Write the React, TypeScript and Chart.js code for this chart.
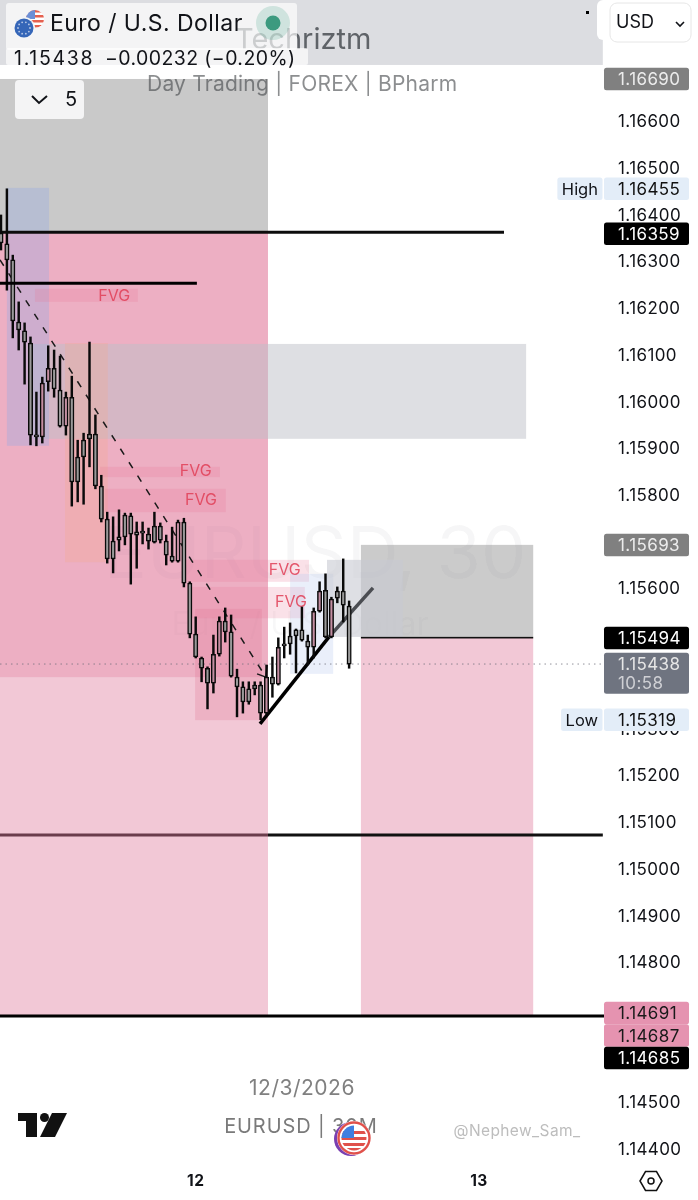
import React, { useEffect, useRef } from "react";
import { Chart, registerables } from "chart.js";

Chart.register(...registerables);

const FONT = "Inter, 'Liberation Sans', sans-serif";

// Candles, oldest first, in 30 minute steps (prices × 100000 for readability)
const opens = [116360, 116337, 116303, 116170, 116151, 116125, 115928, 115924, 116042, 116071, 116024, 115947, 116009, 115881, 115917, 115930, 115930, 115819, 115748, 115701, 115710, 115757, 115755, 115721, 115721, 115716, 115733, 115733, 115701, 115669, 115658, 115742, 115611, 115502, 115451, 115429, 115397, 115459, 115530, 115507, 115410, 115389, 115385, 115393, 115393, 115333, 115410, 115395, 115479, 115498, 115511, 115511, 115487, 115474, 115551, 115596, 115496, 115594, 115594, 115562];
const highs = [116399, 116455, 116313, 116213, 116168, 116138, 116020, 116052, 116119, 116110, 116097, 116020, 116054, 115917, 115932, 116127, 115971, 115842, 115763, 115753, 115768, 115761, 115761, 115742, 115742, 115729, 115763, 115740, 115714, 115731, 115746, 115750, 115614, 115539, 115453, 115432, 115500, 115539, 115558, 115543, 115427, 115400, 115400, 115400, 115400, 115436, 115453, 115494, 115517, 115526, 115513, 115560, 115500, 115558, 115614, 115631, 115581, 115603, 115663, 115573];
const lows = [116324, 116238, 116136, 116110, 116037, 115907, 115905, 115911, 116022, 116009, 115945, 115928, 115776, 115785, 115780, 115860, 115813, 115742, 115654, 115633, 115680, 115693, 115609, 115643, 115695, 115684, 115697, 115697, 115650, 115656, 115656, 115603, 115494, 115451, 115400, 115342, 115376, 115455, 115485, 115410, 115325, 115333, 115352, 115372, 115319, 115331, 115367, 115393, 115451, 115459, 115419, 115487, 115436, 115451, 115549, 115494, 115494, 115569, 115528, 115429];
const closes = [116339, 116303, 116172, 116153, 116127, 115928, 115924, 116039, 116071, 116027, 115947, 116009, 115828, 115828, 115881, 115920, 115819, 115748, 115663, 115663, 115703, 115710, 115716, 115714, 115718, 115701, 115699, 115703, 115671, 115658, 115742, 115611, 115502, 115453, 115429, 115397, 115459, 115530, 115507, 115412, 115389, 115357, 115357, 115385, 115333, 115410, 115395, 115474, 115477, 115481, 115498, 115489, 115474, 115551, 115594, 115496, 115577, 115579, 115564, 115438];

const yTicks = [1.166, 1.165, 1.164, 1.163, 1.162, 1.161, 1.16, 1.159, 1.158, 1.156, 1.153, 1.152, 1.151, 1.15, 1.149, 1.148, 1.145, 1.144];
const xTickValues = [33, 81];
const xTickLabels: Record<number, string> = { 33: "12", 81: "13" };

// Zones: [time from, time to, price top, price bottom]
const pinkZone = [-0.17, 45.25, 1.16362, 1.14687];
const pinkUpperZone = [-0.17, 45.25, 1.16362, 1.1541];
const grayTopZone = [-0.17, 45.25, 1.1669, 1.16362];
const headerBand = [-0.17, 102, 1.169, 1.1672];
const supplyZone = [5.42, 89, 1.16123, 1.1592];
const blueLeftZone = [1, 8.14, 1.16457, 1.15905];
const orangeZone = [10.85, 18.1, 1.16125, 1.15656];
const darkPinkZone = [32.9, 44.2, 1.15556, 1.15318];
const blueRightZone = [49, 56.3, 1.15631, 1.15417];
const grayRightZone = [55.25, 68.1, 1.15661, 1.15496];
const tradeStopZone = [61, 90.2, 1.15693, 1.15494];
const tradeTargetZone = [61, 90.2, 1.15494, 1.14687];

const fvgBands = [
  [5.76, 23.2, 1.16241, 1.16213],
  [16.8, 37.1, 1.1586, 1.15838],
  [17.6, 38.1, 1.15813, 1.15763],
  [31.2, 52.2, 1.15661, 1.15614],
  [32, 51.5, 1.15603, 1.15536],
];
const fvgLabels = [
  [19.2, 1.16226],
  [33, 1.15851],
  [33.9, 1.15789],
  [48.1, 1.15639],
  [49.15, 1.15571],
];

// Lines in chart values
const level16359 = [{ x: -0.17, y: 1.16362 }, { x: 85.25, y: 1.16362 }];
const level16253 = [{ x: -0.17, y: 1.16253 }, { x: 33.2, y: 1.16253 }];
const level15074Left = [{ x: -0.17, y: 1.15072 }, { x: 45.25, y: 1.15072 }];
const level15074Right = [{ x: 45.25, y: 1.15072 }, { x: 102, y: 1.15072 }];
const level14685 = [{ x: -0.17, y: 1.14685 }, { x: 102.37, y: 1.14685 }];
const lastPriceLine = [{ x: -0.17, y: 1.15438 }, { x: 102, y: 1.15438 }];
const trendLower = [{ x: 43.9, y: 1.1531 }, { x: 55.6, y: 1.15496 }];
const trendUpper = [{ x: 55.6, y: 1.15496 }, { x: 63.05, y: 1.15601 }];
const dashedTrend = [{ x: -0.17, y: 1.16303 }, { x: 44.9, y: 1.1541 }];
const arrowA = [{ x: 43.4, y: 1.15417 }, { x: 44.9, y: 1.1541 }];
const arrowB = [{ x: 45.1, y: 1.15436 }, { x: 44.9, y: 1.1541 }];

// Price tags on the axis
const tagValues = [1.1669, 1.16455, 1.16359, 1.15693, 1.15494, 1.15438, 1.15319, 1.14691, 1.14687, 1.14685];
const tagKinds = ["gray", "blue", "black", "gray", "black", "last", "blue", "pink", "pink", "black"];
const tagPrefix: Record<number, string> = { 1: "High", 6: "Low" };
const countdown = "10:58";

const TAG_STYLE: Record<string, { bg: string; fg: string }> = {
  gray: { bg: "#808080", fg: "#ececec" },
  blue: { bg: "#e3edf8", fg: "#111111" },
  black: { bg: "#000000", fg: "#ffffff" },
  last: { bg: "#6f7480", fg: "#e6e6e6" },
  pink: { bg: "#e593b0", fg: "#1a1a1a" },
};

const toPrice = (v: number) => v / 100000;
const UP = "#c48ea2";
const DOWN = "#9a9a9a";

function lineDs(data: any[], color: string, width: number, order: number, dash: number[] = []) {
  return {
    type: "line" as const,
    data,
    borderColor: color,
    borderWidth: width,
    borderDash: dash,
    pointRadius: 0,
    fill: false,
    order,
    tension: 0,
    borderCapStyle: "butt" as const,
  };
}

function roundRect(ctx: CanvasRenderingContext2D, x: number, y: number, w: number, h: number, r: number, fill: string) {
  ctx.fillStyle = fill;
  ctx.beginPath();
  ctx.roundRect(x, y, w, h, r);
  ctx.fill();
}

function text(ctx: any, s: string, x: number, y: number, font: string, color: string, align: CanvasTextAlign = "left", spacing = 0) {
  ctx.font = font;
  ctx.fillStyle = color;
  ctx.textAlign = align;
  ctx.textBaseline = "middle";
  ctx.letterSpacing = `${spacing}px`;
  ctx.fillText(s, x, y + 1);
}

const zonesPlugin = {
  id: "zones",
  beforeDraw(chart: any) {
    chart.ctx.letterSpacing = "0.4px";
  },
  beforeDatasetsDraw(chart: any) {
    const { ctx, scales } = chart;
    const xs = scales.x;
    const ys = scales.y;
    const zone = (z: number[], color: string) => {
      const x1 = xs.getPixelForValue(z[0]);
      const x2 = xs.getPixelForValue(z[1]);
      const y1 = ys.getPixelForValue(z[2]);
      const y2 = ys.getPixelForValue(z[3]);
      ctx.fillStyle = color;
      ctx.fillRect(x1, y1, x2 - x1, y2 - y1);
    };
    ctx.save();
    zone(headerBand, "#dcdde1");
    // watermark sits under the pink zone
    text(ctx, "EURUSD, 30", 315, 555, `72px ${FONT}`, "rgba(19,23,34,0.02)", "center");
    text(ctx, "Euro / U.S. Dollar", 300, 624, `32px ${FONT}`, "rgba(19,23,34,0.02)", "center");
    zone(grayTopZone, "#c9c9c9");
    zone(pinkZone, "#f2c8d6");
    zone(pinkUpperZone, "rgba(232,140,170,0.42)");
    zone(tradeStopZone, "rgba(175,175,175,0.65)");
    zone(tradeTargetZone, "#f2c8d6");
    text(ctx, "EURUSD, 30", 315, 555, `72px ${FONT}`, "rgba(19,23,34,0.02)", "center");
    text(ctx, "Euro / U.S. Dollar", 300, 624, `32px ${FONT}`, "rgba(19,23,34,0.015)", "center");
    zone(supplyZone, "rgba(190,192,200,0.5)");
    zone(blueLeftZone, "rgba(150,170,225,0.35)");
    zone(orangeZone, "rgba(245,170,140,0.28)");
    zone(darkPinkZone, "rgba(222,110,145,0.25)");
    fvgBands.forEach((b) => zone(b, "rgba(230,120,150,0.22)"));
    zone(blueRightZone, "rgba(190,205,240,0.32)");
    zone(grayRightZone, "rgba(200,202,210,0.6)");
    // target top edge
    ctx.fillStyle = "#111111";
    ctx.fillRect(xs.getPixelForValue(tradeTargetZone[0]), ys.getPixelForValue(tradeTargetZone[2]) - 1, xs.getPixelForValue(tradeTargetZone[1]) - xs.getPixelForValue(tradeTargetZone[0]), 1.6);
    fvgLabels.forEach((l) => {
      text(ctx, "FVG", xs.getPixelForValue(l[0]), ys.getPixelForValue(l[1]) - 1, `16px ${FONT}`, "rgba(224,62,86,0.85)", "center");
    });
    // Header watermark text
    text(ctx, "Techriztm", 235, 39, `29px ${FONT}`, "#5f6368");
    ctx.restore();
  },
  afterDraw(chart: any) {
    const { ctx, scales } = chart;
    const ys = scales.y;
    ctx.save();

    // Legend panel
    ctx.fillStyle = "#ffffff";
    ctx.fillRect(0, 65, 300, 13);
    text(ctx, "Day Trading | FOREX | BPharm", 147, 84, `21px ${FONT}`, "rgba(70,72,76,0.62)", "left", 0.22);
    roundRect(ctx, 6, 3, 291, 47, 3, "rgba(255,255,255,0.68)");
    roundRect(ctx, 6, 48, 302, 17, 2, "rgba(255,255,255,0.68)");

    // Flags
    ctx.save();
    ctx.beginPath();
    ctx.arc(35, 19, 9, 0, Math.PI * 2);
    ctx.clip();
    ctx.fillStyle = "#ffffff";
    ctx.fillRect(26, 10, 18, 18);
    ctx.fillStyle = "#e5604f";
    for (let s = 10; s < 28; s += 5) ctx.fillRect(26, s, 18, 2.5);
    ctx.fillStyle = "#6c8fd6";
    ctx.fillRect(26, 10, 9, 9);
    ctx.restore();
    ctx.fillStyle = "#f4f5f7";
    ctx.beginPath();
    ctx.arc(24, 28, 11, 0, Math.PI * 2);
    ctx.fill();
    ctx.fillStyle = "#3566b8";
    ctx.beginPath();
    ctx.arc(24, 28, 9.5, 0, Math.PI * 2);
    ctx.fill();
    ctx.fillStyle = "#b9c9e6";
    for (let k = 0; k < 10; k++) {
      const a = (k * Math.PI) / 5;
      ctx.beginPath();
      ctx.arc(24 + 6 * Math.cos(a), 28 + 6 * Math.sin(a), 0.9, 0, Math.PI * 2);
      ctx.fill();
    }

    text(ctx, "Euro / U.S. Dollar", 50, 23, `23px ${FONT}`, "#111318", "left", 0.45);
    text(ctx, "1.15438", 14, 58, `19.5px ${FONT}`, "#111318", "left", 1.7);
    text(ctx, "−0.00232 (−0.20%)", 105, 58, `19.5px ${FONT}`, "#111318", "left", 0.4);

    // Status dot
    ctx.fillStyle = "rgba(60,160,130,0.2)";
    ctx.beginPath();
    ctx.arc(273, 23, 17, 0, Math.PI * 2);
    ctx.fill();
    ctx.fillStyle = "#3c9a7f";
    ctx.beginPath();
    ctx.arc(273, 23, 7.5, 0, Math.PI * 2);
    ctx.fill();

    // Indicators button
    roundRect(ctx, 15, 80, 69, 39, 4, "#f4f4f5");
    ctx.strokeStyle = "#111318";
    ctx.lineWidth = 2;
    ctx.beginPath();
    ctx.moveTo(32, 96);
    ctx.lineTo(39, 103);
    ctx.lineTo(47, 96);
    ctx.stroke();
    text(ctx, "5", 65, 99, `20px ${FONT}`, "#111318");

    // Currency select
    ctx.fillStyle = "#000";
    ctx.fillRect(586, 11, 3, 3);
    ctx.fillStyle = "#ffffff";
    ctx.beginPath();
    ctx.roundRect(597, 0, 12, 40, 6);
    ctx.fill();
    roundRect(ctx, 610, 3, 81, 39, 7, "#ffffff");
    ctx.strokeStyle = "#e6e6e6";
    ctx.lineWidth = 1;
    ctx.beginPath();
    ctx.roundRect(610, 3, 81, 39, 7);
    ctx.stroke();
    text(ctx, "USD", 616, 22, `18px ${FONT}`, "#111318");
    ctx.strokeStyle = "#111318";
    ctx.lineWidth = 1.6;
    ctx.beginPath();
    ctx.moveTo(676, 22);
    ctx.lineTo(680, 26);
    ctx.lineTo(684, 22);
    ctx.stroke();

    // Price tags
    const h = 22.5;
    let lastBottom = -100;
    tagValues.forEach((v, i) => {
      const kind = tagKinds[i];
      const st = TAG_STYLE[kind];
      let y = ys.getPixelForValue(v);
      if (y - h / 2 < lastBottom) y = lastBottom + h / 2;
      const tall = kind === "last";
      const top = y - h / 2;
      const height = tall ? 41 : h;
      roundRect(ctx, 604, top, 85, height, 2.5, st.bg);
      text(ctx, v.toFixed(5), 618, y, `17px ${FONT}`, st.fg, "left", 0.4);
      if (tall) text(ctx, countdown, 618, y + 19, `17px ${FONT}`, "#cfd0d4", "left", 0.4);
      lastBottom = top + height;
      const pre = tagPrefix[i];
      if (pre) {
        ctx.font = `16.5px ${FONT}`;
        ctx.letterSpacing = "0px";
        const w = ctx.measureText(pre).width + 9;
        roundRect(ctx, 602.5 - w, top, w, h, 2.5, st.bg);
        text(ctx, pre, 602.5 - w / 2, y, `16.5px ${FONT}`, "#111318", "center");
      }
    });

    // Bottom captions
    text(ctx, "12/3/2026", 302, 1088, `21px ${FONT}`, "#808080", "center", 0.5);
    text(ctx, "EURUSD | 30M", 301, 1126, `20px ${FONT}`, "#7a7a7a", "center", 0.9);
    text(ctx, "@Nephew_Sam_", 517, 1130, `15.5px ${FONT}`, "#bdbdbd", "center", 0.4);

    // Round flag
    ctx.fillStyle = "#7a3fb0";
    ctx.beginPath();
    ctx.arc(351, 1139, 17, 0, Math.PI * 2);
    ctx.fill();
    ctx.fillStyle = "#ffffff";
    ctx.beginPath();
    ctx.arc(354, 1138, 17, 0, Math.PI * 2);
    ctx.fill();
    ctx.strokeStyle = "#e0514b";
    ctx.lineWidth = 2.4;
    ctx.beginPath();
    ctx.arc(354, 1138, 15.5, 0, Math.PI * 2);
    ctx.stroke();
    ctx.save();
    ctx.beginPath();
    ctx.arc(354, 1138, 12.5, 0, Math.PI * 2);
    ctx.clip();
    ctx.fillStyle = "#ffffff";
    ctx.fillRect(340, 1124, 28, 28);
    ctx.fillStyle = "#e0514b";
    [1131, 1137, 1143, 1148].forEach((sy) => ctx.fillRect(340, sy, 28, 3));
    ctx.fillStyle = "#3f7fe0";
    ctx.fillRect(340, 1124, 14, 14);
    ctx.restore();

    // Logo
    ctx.fillStyle = "#111111";
    ctx.fillRect(18, 1113, 19, 8);
    ctx.fillRect(26, 1113, 11, 24);
    ctx.beginPath();
    ctx.arc(44.5, 1117.5, 4.5, 0, Math.PI * 2);
    ctx.fill();
    ctx.beginPath();
    ctx.moveTo(52, 1113);
    ctx.lineTo(67, 1113);
    ctx.lineTo(55, 1137);
    ctx.lineTo(40, 1137);
    ctx.closePath();
    ctx.fill();

    // Settings icon
    ctx.strokeStyle = "#111111";
    ctx.lineWidth = 1.5;
    ctx.beginPath();
    ctx.moveTo(640, 1181);
    ctx.lineTo(645.5, 1171.5);
    ctx.lineTo(656.5, 1171.5);
    ctx.lineTo(662, 1181);
    ctx.lineTo(656.5, 1190.5);
    ctx.lineTo(645.5, 1190.5);
    ctx.closePath();
    ctx.stroke();
    ctx.beginPath();
    ctx.arc(651, 1181, 3, 0, Math.PI * 2);
    ctx.stroke();

    ctx.restore();
  },
};

export default function App() {
  const ref = useRef<HTMLCanvasElement>(null);
  useEffect(() => {
    document.body.style.margin = "0";
    const idx = opens.map((_, i) => i);
    const chart = new Chart(ref.current as HTMLCanvasElement, {
      type: "bar",
      plugins: [zonesPlugin],
      data: {
        datasets: [
          lineDs(level15074Left, "#6b3d4c", 3, 9),
          lineDs(level15074Right, "#111111", 3, 9),
          lineDs(level16359, "#0c0c0c", 3, 9),
          lineDs(level14685, "#000000", 3, 9),
          lineDs(lastPriceLine, "rgba(110,110,120,0.75)", 1, 8, [1.5, 4]),
          lineDs(dashedTrend, "#1a1a1a", 1.5, 8, [7, 9]),
          lineDs(arrowA, "#1a1a1a", 1.5, 8),
          lineDs(arrowB, "#1a1a1a", 1.5, 8),
          lineDs(trendLower, "#000000", 3.5, 7),
          lineDs(trendUpper, "#4b4d52", 3.5, 7),
          lineDs(level16253, "#000000", 3, 2),
          {
            type: "bar" as const,
            label: "wick",
            data: idx.map((i) => ({ x: i, y: [toPrice(lows[i]), toPrice(highs[i])] })),
            backgroundColor: "#0a0a0a",
            barThickness: 1.8,
            grouped: false,
            order: 5,
          },
          {
            type: "bar" as const,
            label: "body",
            data: idx.map((i) => ({ x: i, y: [toPrice(opens[i]), toPrice(closes[i])] })),
            backgroundColor: idx.map((i) => (closes[i] > opens[i] ? UP : DOWN)),
            borderColor: "#0a0a0a",
            borderWidth: 1.5,
            borderSkipped: false,
            barThickness: 4.4,
            minBarLength: 2,
            grouped: false,
            order: 4,
          },
        ] as any,
      },
      options: {
        responsive: false,
        animation: false,
        events: [],
        layout: { padding: 0 },
        plugins: { legend: { display: false }, tooltip: { enabled: false }, title: { display: false } },
        scales: {
          x: {
            type: "linear",
            min: -0.1695,
            max: 102.37,
            offset: false,
            grid: { display: false, drawTicks: false },
            border: { display: false },
            afterBuildTicks: (s: any) => {
              s.ticks = xTickValues.map((v) => ({ value: v }));
            },
            afterFit: (s: any) => {
              s.height = 35;
              s.paddingLeft = 0;
              s.paddingRight = 0;
            },
            ticks: {
              autoSkip: false,
              maxRotation: 0,
              padding: 7,
              color: "#111318",
              font: { family: FONT, size: 15.5, weight: "bold" },
              callback: (v: any) => xTickLabels[v as number] ?? "",
            },
          },
          y: {
            position: "right",
            min: 1.14366,
            max: 1.16859,
            grid: { display: false, drawTicks: false },
            border: { display: false },
            afterBuildTicks: (s: any) => {
              s.ticks = yTicks.map((v) => ({ value: v }));
            },
            afterFit: (s: any) => {
              s.width = 93;
              s.paddingTop = 0;
              s.paddingBottom = 0;
            },
            ticks: {
              autoSkip: false,
              padding: 13,
              labelOffset: 1,
              align: "center",
              color: "#111318",
              font: { family: FONT, size: 17 },
              callback: (v: any) => Number(v).toFixed(5),
            },
          },
        },
      } as any,
    });
    return () => chart.destroy();
  }, []);
  return <canvas ref={ref} width={698} height={1200} style={{ display: "block" }} />;
}
